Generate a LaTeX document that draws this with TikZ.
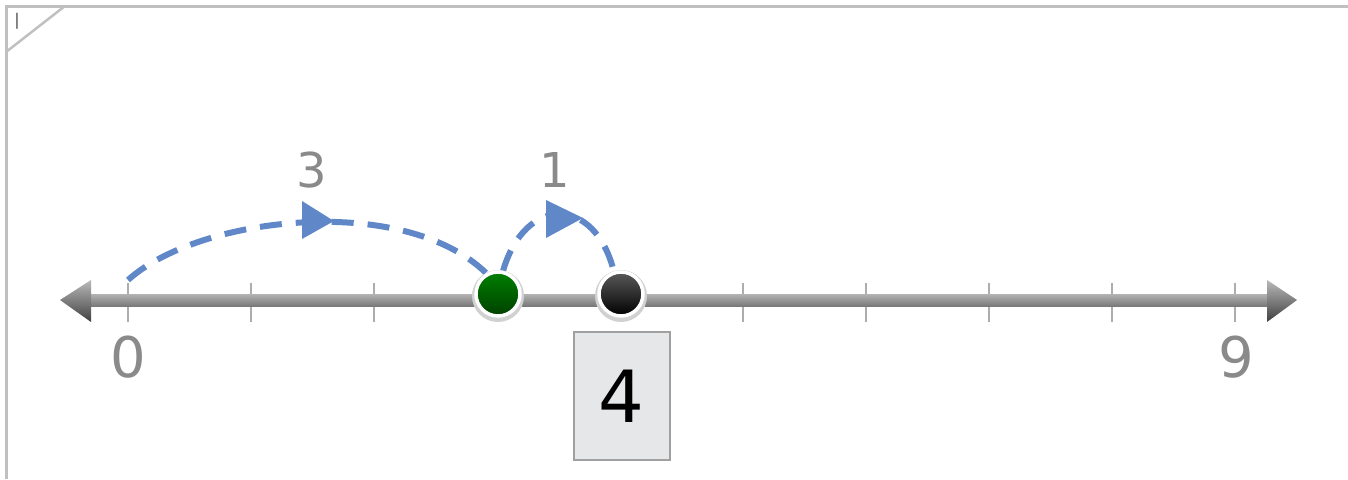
\documentclass[tikz,border=0pt]{standalone}
\usepackage{fontspec}
\setmainfont{DejaVu Sans}
\definecolor{frame}{HTML}{C0C0C0}
\definecolor{jump}{HTML}{6088C8}
\definecolor{lbl}{HTML}{8A8A8A}
\definecolor{boxfill}{HTML}{E6E7E9}
\definecolor{boxline}{HTML}{A0A0A0}
\tikzset{
  jumparc/.style={jump, line width=6pt, dash pattern=on 22pt off 14pt},
  jumptip/.style={fill=jump, draw=none},
  tickmark/.style={draw=lbl!70, line width=1.6pt},
  ticklabel/.style={text=lbl, font=\fontsize{56}{56}\selectfont, inner sep=0pt},
  jumplabel/.style={text=lbl, font=\fontsize{48}{48}\selectfont, inner sep=0pt},
  dotnode/.style={circle, draw=white, line width=3.5pt, minimum size=44pt, inner sep=0pt},
}
\begin{document}
\begin{tikzpicture}[x=1pt,y=-1pt]
\useasboundingbox (0,0) rectangle (1348,479);
% frame
\draw[frame, line width=3pt] (1348,6) -- (6,6) -- (6,479);
\draw[frame, line width=2.5pt] (6,52) -- (65,6);
\node[text=black!70, font=\fontsize{16}{16}\selectfont, inner sep=0pt] (pg) at (17,21) {|};
% ticks
\foreach \i in {0,...,9} {
  \draw[tickmark] ({128+123*\i},283) -- ({128+123*\i},322);
}
% number line
\shade[top color=gray!60, bottom color=gray!95!black] (88,294) rectangle (1270,306);
\shade[top color=gray!55, bottom color=black!75] (60,300) -- (91,280) -- (91,322) -- cycle;
\shade[top color=gray!55, bottom color=black!75] (1297,300) -- (1267,280) -- (1267,322) -- cycle;
% labels
\node[ticklabel] (l0) at (128,357) {0};
\node[ticklabel] (l9) at (1236,357) {9};
% jumps
\coordinate (a0) at (128,280);
\coordinate (a1) at (490,277);
\coordinate (b0) at (503,271);
\coordinate (b1) at (614,272);
\draw[jumparc] (a0) .. controls (200,215) and (410,192) .. (a1);
\draw[jumparc] (b0) .. controls (525,195) and (595,195) .. (b1);
\fill[jumptip] (334,221) -- (302,201) -- (302,239) -- cycle;
\fill[jumptip] (583,218) -- (546,200) -- (546,238) -- cycle;
\node[jumplabel] (j3) at (312,170) {3};
\node[jumplabel] (j1) at (555,170) {1};
% dots
\fill[black!18] (498,296) circle (26);
\fill[black!18] (621,296) circle (26);
\node[dotnode, top color=green!50!black, bottom color=green!25!black] (g) at (498,294) {};
\node[dotnode, top color=black!65, bottom color=black] (k) at (621,294) {};
% answer box
\node[draw=boxline, fill=boxfill, line width=2pt, minimum width=96pt, minimum height=128pt, inner sep=0pt,
      font=\fontsize{72}{72}\selectfont] (ans) at (621.5,396) {4};
\end{tikzpicture}
\end{document}
